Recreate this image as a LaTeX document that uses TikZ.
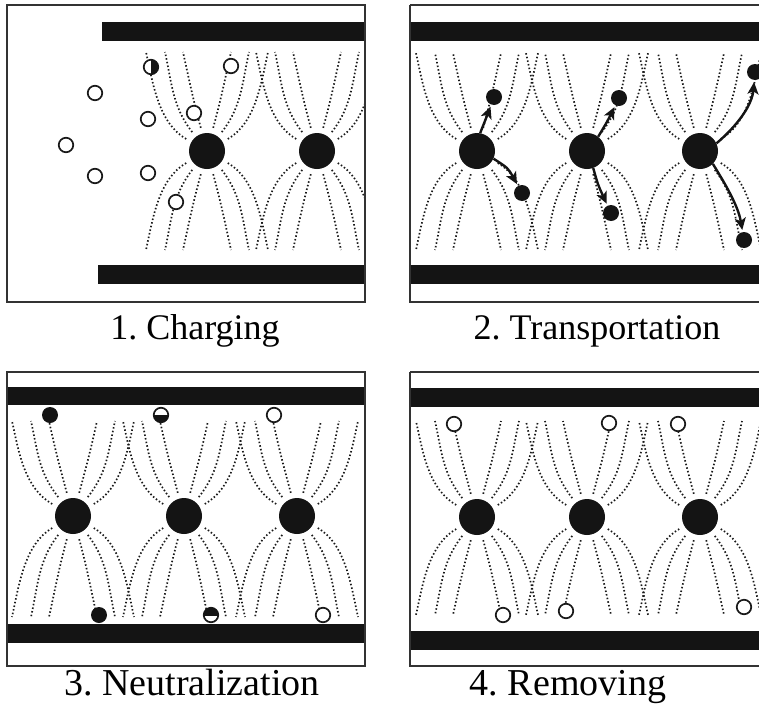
\documentclass[tikz,border=0pt]{standalone}
\usepackage{fontspec}
\setmainfont{Liberation Serif}
\usetikzlibrary{arrows.meta,calc}

\tikzset{
  frame/.style={draw=black!80, line width=1.4pt},
  plate/.style={fill=black!92},
  ion/.style={circle, fill=black!92, minimum size=36pt, inner sep=0pt},
  dust/.style={circle, draw=black!90, fill=white, line width=1.7pt, minimum size=14.5pt, inner sep=0pt},
  charged/.style={circle, fill=black!92, minimum size=16pt, inner sep=0pt},
  fieldline/.style={line width=1.7pt, dash pattern=on 1.5pt off 2.2pt, black!90},
  move/.style={line width=2.4pt, black!92, -{Stealth[length=12pt,width=11pt,inset=3pt]}, shorten >=2pt},
  caption/.style={font=\fontsize{36}{40}\selectfont, inner sep=0pt, anchor=base},
  bigcaption/.style={font=\fontsize{38}{42}\selectfont, inner sep=0pt, anchor=base}
}

% Field lines around one corona ion: #1,#2 centre, #3 upper end row, #4 lower end row
\newcommand\fieldfan[4]{%
  \foreach \sx in {-1,1}{%
    \foreach \sy in {-1,1}{%
      \foreach \ph/\d in {15/24, 38/42, 60/61}{%
        \pgfmathsetmacro\ye{\sy<0 ? #3 : #4}%
        \draw[fieldline] ({#1+\sx*24*sin(\ph)},{#2+\sy*24*cos(\ph)})
          .. controls ({#1+\sx*56*sin(\ph)},{#2+\sy*56*cos(\ph)})
          and ({#1+\sx*(\d-7)},{\ye-\sy*32}) .. ({#1+\sx*\d},{\ye});
      }}}}

\begin{document}
\frenchspacing
\begin{tikzpicture}[x=1pt, y=-1pt]
\useasboundingbox (0,0) rectangle (759,704);

% ---------- 1. Charging ----------
\begin{scope}
  \clip (7,5) rectangle (365,302);
  \fieldfan{207}{151}{52}{250}
  \fieldfan{317}{151}{52}{250}
\end{scope}
\fill[plate] (102,22) rectangle (365,41);
\fill[plate] (98,265) rectangle (365,284);
\node[ion] (a1) at (207,151) {};
\node[ion] (a2) at (317,151) {};
\node[dust] (a3) at (151,67) {};
\begin{scope}
  \clip (151,58) rectangle (161,77);
  \fill[black!92] (151,67) circle (7.5pt);
\end{scope}
\node[dust] (a4) at (231,66) {};
\node[dust] (a5) at (95,93) {};
\node[dust] (a6) at (148,119) {};
\node[dust] (a7) at (194,113) {};
\node[dust] (a8) at (66,145) {};
\node[dust] (a9) at (95,176) {};
\node[dust] (a10) at (148,173) {};
\node[dust] (a11) at (176,202) {};
\draw[frame] (7,5) rectangle (365,302);
\node[caption] (t1) at (195,339) {1. Charging};

% ---------- 2. Transportation ----------
\begin{scope}
  \clip (410,5) rectangle (759,302);
  \fieldfan{477}{151}{53}{250}
  \fieldfan{587}{151}{53}{250}
  \fieldfan{700}{151}{53}{250}
\end{scope}
\fill[plate] (410,22) rectangle (770,41);
\fill[plate] (410,265) rectangle (770,284);
\node[ion] (b1) at (477,151) {};
\node[ion] (b2) at (587,151) {};
\node[ion] (b3) at (700,151) {};
\node[charged] (b4) at (494,97) {};
\node[charged] (b5) at (522,193) {};
\node[charged] (b6) at (619,98) {};
\node[charged] (b7) at (611,213) {};
\node[charged] (b8) at (755,72) {};
\node[charged] (b9) at (744,240) {};
\draw[move] (b1.80) .. controls (484,124) .. (b4);
\draw[move] (b1.-25) .. controls (508,168) .. (b5);
\draw[move] (b2.52) .. controls (607,122) .. (b6);
\draw[move] (b2.-70) .. controls (598,185) .. (b7);
\draw[move] (b3.25) .. controls (738,125) and (752,105) .. (b8);
\draw[move] (b3.-45) .. controls (724,182) and (738,205) .. (b9);
\draw[frame] (410,5) -- (770,5) (410,5) -- (410,302) -- (770,302);
\node[caption] (t2) at (597,339) {2. Transportation};

% ---------- 3. Neutralization ----------
\begin{scope}
  \clip (7,372) rectangle (365,666);
  \fieldfan{73}{516}{421}{617}
  \fieldfan{184}{516}{421}{617}
  \fieldfan{297}{516}{421}{617}
\end{scope}
\fill[plate] (7,387) rectangle (365,405);
\fill[plate] (7,624) rectangle (365,643);
\node[ion] (c1) at (73,516) {};
\node[ion] (c2) at (184,516) {};
\node[ion] (c3) at (297,516) {};
\node[charged] (c4) at (50,415) {};
\node[dust] (c5) at (161,415) {};
\begin{scope}
  \clip (150,415) rectangle (172,425);
  \fill[black!92] (161,415) circle (7.5pt);
\end{scope}
\node[dust] (c6) at (274,415) {};
\node[charged] (c7) at (99,615) {};
\node[dust] (c8) at (211,615) {};
\begin{scope}
  \clip (200,605) rectangle (222,615);
  \fill[black!92] (211,615) circle (7.5pt);
\end{scope}
\node[dust] (c9) at (323,615) {};
\draw[frame] (7,372) rectangle (365,666);
\node[bigcaption] (t3) at (192,695) {3. Neutralization};

% ---------- 4. Removing ----------
\begin{scope}
  \clip (410,372) rectangle (759,666);
  \fieldfan{477}{517}{421}{615}
  \fieldfan{587}{517}{421}{615}
  \fieldfan{700}{517}{421}{615}
\end{scope}
\fill[plate] (410,388) rectangle (770,407);
\fill[plate] (410,631) rectangle (770,650);
\node[ion] (d1) at (477,517) {};
\node[ion] (d2) at (587,517) {};
\node[ion] (d3) at (700,517) {};
\node[dust] (d4) at (454,424) {};
\node[dust] (d5) at (609,423) {};
\node[dust] (d6) at (678,424) {};
\node[dust] (d7) at (503,615) {};
\node[dust] (d8) at (566,611) {};
\node[dust] (d9) at (744,607) {};
\draw[frame] (410,372) -- (770,372) (410,372) -- (410,666) -- (770,666);
\node[bigcaption] (t4) at (568,695) {4. Removing};
\end{tikzpicture}
\end{document}
